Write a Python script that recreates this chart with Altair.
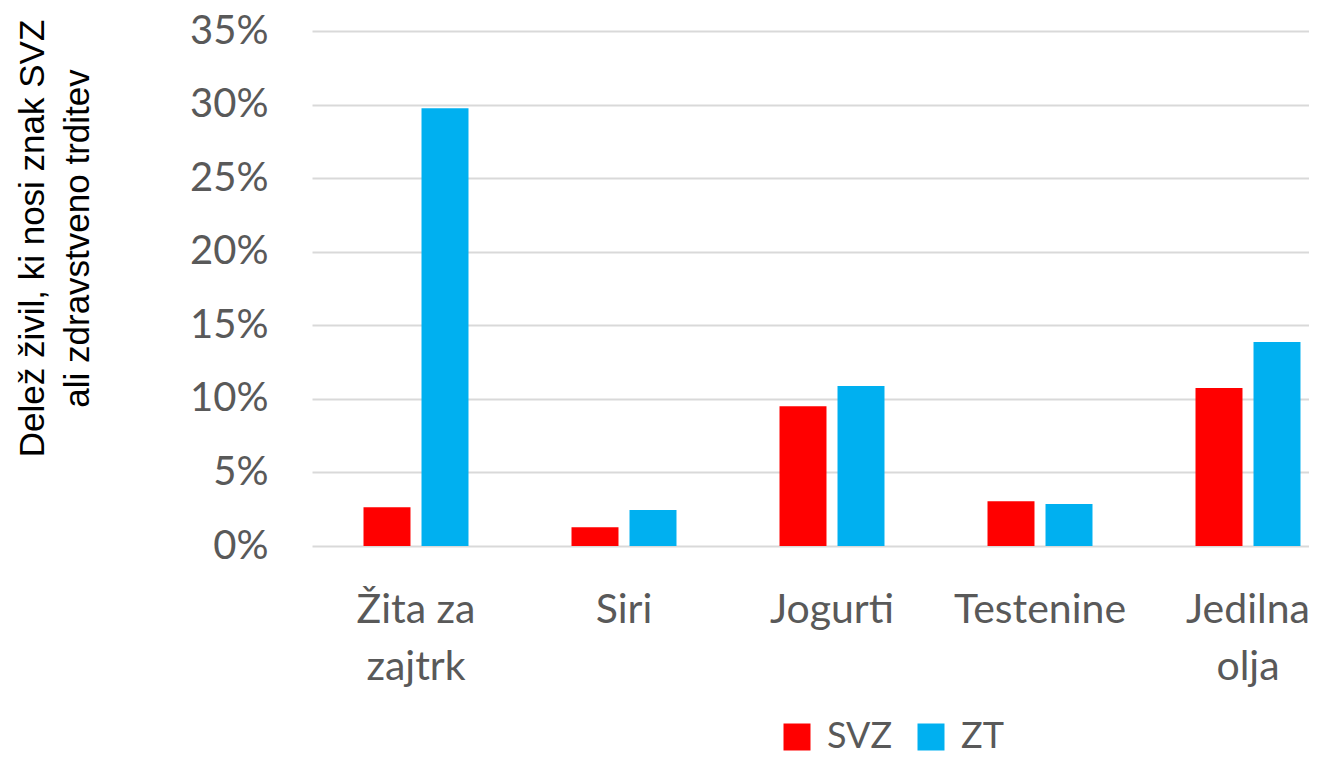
import altair as alt
import pandas as pd

categories = ["Žita za zajtrk", "Siri", "Jogurti", "Testenine", "Jedilna olja"]
series = ["SVZ", "ZT"]
svz = [0.0263, 0.0127, 0.095, 0.0304, 0.1073]
zt = [0.2975, 0.0245, 0.1088, 0.0286, 0.1386]
colors = ["#FF0000", "#00B0F0"]
y_ticks = [0, 0.05, 0.10, 0.15, 0.20, 0.25, 0.30, 0.35]
y_title = ["Delež živil, ki nosi znak SVZ", "ali zdravstveno trditev"]

rows = []
for c, a, b in zip(categories, svz, zt):
    rows.append({"kategorija": c, "serija": "SVZ", "delez": a})
    rows.append({"kategorija": c, "serija": "ZT", "delez": b})
df = pd.DataFrame(rows)

label_expr = ("datum.value == 'Žita za zajtrk' ? ['Žita za', 'zajtrk'] : "
              "datum.value == 'Jedilna olja' ? ['Jedilna', 'olja'] : datum.label")

font = "Lato"
gray = "#595959"

chart = alt.Chart(df).mark_bar().encode(
    x=alt.X("kategorija:N", sort=categories,
            scale=alt.Scale(range=[0, 1040], paddingInner=0, paddingOuter=0),
            axis=alt.Axis(title=None, labelAngle=0, domain=False, ticks=False,
                          labelExpr=label_expr, labelFont=font, labelFontSize=41,
                          labelColor=gray, labelBaseline="alphabetic",
                          labelPadding=76, labelLineHeight=57, labelLimit=300)),
    xOffset=alt.XOffset("serija:N", sort=series,
                        scale=alt.Scale(paddingInner=0.19, paddingOuter=0.888)),
    y=alt.Y("delez:Q",
            scale=alt.Scale(domain=[0, 0.35], nice=False),
            axis=alt.Axis(values=y_ticks, format=".0%", title=y_title,
                          domain=False, ticks=False, grid=True,
                          gridColor="#D9D9D9", gridWidth=2,
                          labelFont=font, labelFontSize=40, labelColor=gray,
                          labelPadding=44, labelBaseline="middle",
                          titleFont="Liberation Sans", titleFontSize=35,
                          titleFontWeight="normal", titleColor="#000000",
                          titleAngle=-90, titleAlign="center",
                          titleBaseline="alphabetic", titleLineHeight=45,
                          titleX=-269, titleY=207)),
    color=alt.Color("serija:N", sort=series,
                    scale=alt.Scale(domain=series, range=colors),
                    legend=alt.Legend(title=None, orient="none", direction="horizontal",
                                      legendX=467, legendY=688, padding=0,
                                      symbolType="square", symbolSize=729,
                                      symbolStrokeWidth=0, labelFont=font,
                                      labelFontSize=36, labelColor=gray,
                                      labelOffset=12, columnPadding=20)),
).properties(
    width=997,
    height=515,
    autosize=alt.AutoSizeParams(type="none"),
    padding={"left": 304, "top": 23, "right": 0, "bottom": 212},
).configure_view(stroke=None)

chart.save("out.html", embed_options={"renderer": "svg", "actions": False})
